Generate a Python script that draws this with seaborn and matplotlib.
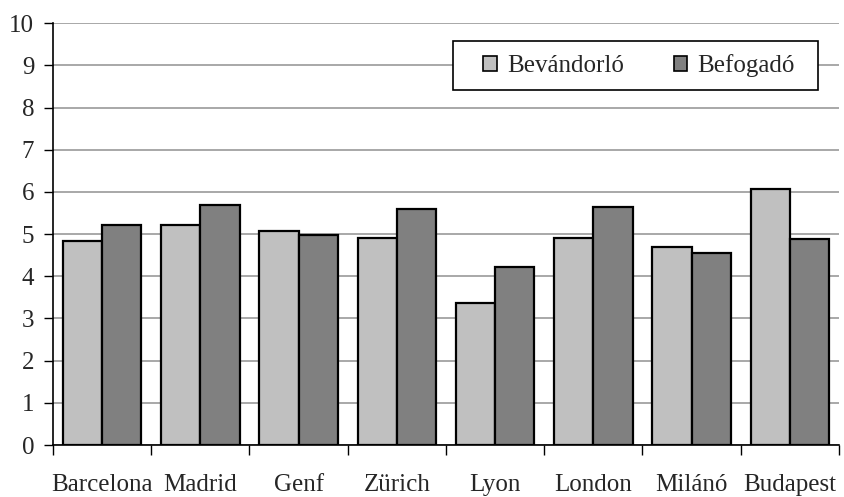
import numpy as np
import pandas as pd
import matplotlib
matplotlib.use("Agg")
import matplotlib.pyplot as plt
from matplotlib.font_manager import FontProperties
from matplotlib.patches import Rectangle
import seaborn as sns

cities = ["Barcelona", "Madrid", "Genf", "Zürich", "Lyon", "London", "Milánó", "Budapest"]
bevandorlo = [4.84, 5.21, 5.07, 4.92, 3.36, 4.92, 4.69, 6.06]
befogado = [5.21, 5.70, 4.98, 5.59, 4.21, 5.64, 4.55, 4.88]
series_names = ["Bevándorló", "Befogadó"]
y_ticks = list(range(0, 11))

df = pd.DataFrame({
    "city": cities * 2,
    "value": bevandorlo + befogado,
    "series": [series_names[0]] * len(cities) + [series_names[1]] * len(cities),
})

sns.set_style("white")
plt.rcParams["font.family"] = "serif"
plt.rcParams["font.serif"] = ["Liberation Serif", "DejaVu Serif"]
FAM = ["Liberation Serif", "DejaVu Serif"]
FS = 18
W, H = 845, 497

fig = plt.figure(figsize=(8.45, 4.97), dpi=100)
ax = fig.add_axes([53 / W, 1 - 445 / H, (839 - 53) / W, (445 - 23.3) / H])

sns.barplot(data=df, x="city", y="value", hue="series", order=cities,
            hue_order=series_names, palette=["#C0C0C0", "#808080"],
            width=0.8, edgecolor="black", linewidth=1.6, ax=ax, zorder=3)

ax.set_ylim(0, 10)
ax.set_xlim(-0.5, len(cities) - 0.5)
ax.set_yticks(y_ticks)
ax.set_yticklabels([str(t) for t in y_ticks], fontsize=FS, fontfamily=FAM)
ax.yaxis.grid(True, color="#999999", linewidth=1.2, zorder=0)
ax.set_axisbelow(True)

ax.set_xticks(range(len(cities)))
ax.set_xticklabels(cities, fontsize=FS, fontfamily=FAM)
ax.tick_params(axis="x", which="major", length=0, pad=21)
ax.set_xticks(np.arange(-0.5, len(cities), 1.0), minor=True)
ax.tick_params(axis="x", which="minor", length=7, width=1, color="black", direction="out", bottom=True)
ax.tick_params(axis="y", length=6.5, width=1, color="black", direction="out", left=True, pad=7)

ax.set_xlabel("")
ax.set_ylabel("")
for s in ["top", "right"]:
    ax.spines[s].set_visible(False)
for s in ["left", "bottom"]:
    ax.spines[s].set_color("black")
    ax.spines[s].set_linewidth(1.2)

# legend box
box = Rectangle((453 / W, 1 - 90 / H), (818 - 453) / W, (90 - 41) / H,
                transform=fig.transFigure, facecolor="white", edgecolor="black",
                linewidth=1.2, zorder=4, clip_on=False)
ax.add_patch(box)

leg = ax.legend(loc="center", bbox_to_anchor=(639 / W, 1 - 65.5 / H),
                bbox_transform=fig.transFigure, ncol=2,
                prop=FontProperties(family=FAM, size=FS),
                frameon=False,
                handlelength=0.55, handleheight=0.55, handletextpad=0.4,
                columnspacing=2.0, borderpad=0, borderaxespad=0)
leg.set_zorder(6)
for h in leg.legend_handles:
    h.set_linewidth(1.2)

fig.savefig("out.png", dpi=100)
